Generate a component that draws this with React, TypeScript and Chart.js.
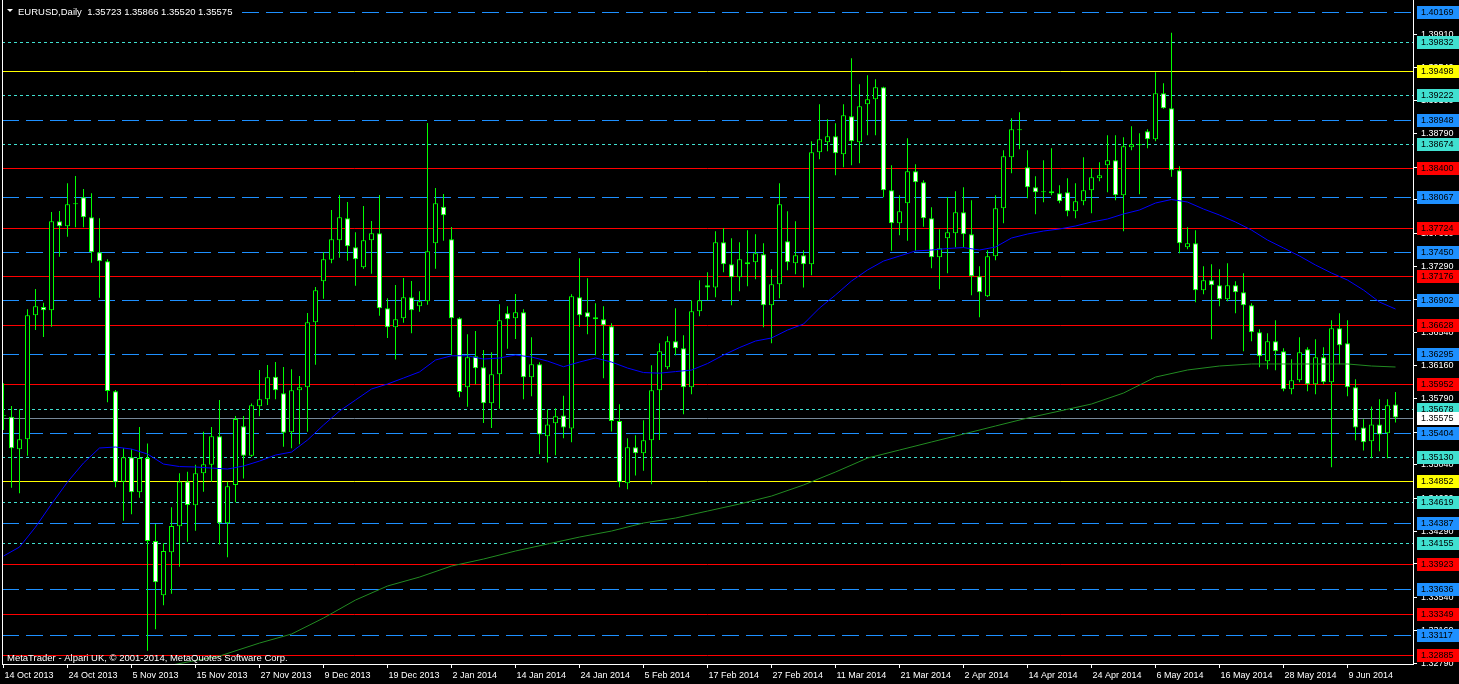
import React, { useEffect, useRef } from "react";
import { Chart, registerables } from "chart.js";

Chart.register(...registerables);

// ---------- data ----------
const symbolTitle = "EURUSD,Daily";
const copyrightText = "MetaTrader - Alpari UK, \u00A9 2001-2014, MetaQuotes Software Corp.";

const dateLabels = [
  "14 Oct 2013", "24 Oct 2013", "5 Nov 2013", "15 Nov 2013", "27 Nov 2013", "9 Dec 2013",
  "19 Dec 2013", "2 Jan 2014", "14 Jan 2014", "24 Jan 2014", "5 Feb 2014", "17 Feb 2014",
  "27 Feb 2014", "11 Mar 2014", "21 Mar 2014", "2 Apr 2014", "14 Apr 2014", "24 Apr 2014",
  "6 May 2014", "16 May 2014", "28 May 2014", "9 Jun 2014",
];
const dateLabelBars = [0, 8, 16, 24, 32, 40, 48, 56, 64, 72, 80, 88, 96, 104, 112, 120, 128, 136, 144, 152, 160, 168];

const opens = [
  1.35600, 1.35585, 1.35216, 1.35329, 1.36733, 1.36827, 1.36789, 1.37797, 1.37740, 1.37989,
  1.38069, 1.37842, 1.37446, 1.37344, 1.35872, 1.34849, 1.35125, 1.34729, 1.35117, 1.34178,
  1.33563, 1.34050, 1.34344, 1.34853, 1.34582, 1.34944, 1.35042, 1.35363, 1.34378, 1.34812,
  1.35476, 1.35143, 1.35703, 1.35782, 1.36038, 1.35850, 1.35408, 1.35884, 1.35918, 1.36654,
  1.37118, 1.37362, 1.37582, 1.37831, 1.37503, 1.37276, 1.37582, 1.37661, 1.36812, 1.36597,
  1.36699, 1.36937, 1.36835, 1.36891, 1.37548, 1.37962, 1.37593, 1.36699, 1.35918, 1.36269,
  1.36144, 1.35737, 1.36065, 1.36755, 1.36699, 1.36767, 1.36031, 1.36178, 1.35363, 1.35510,
  1.35600, 1.35453, 1.36937, 1.36767, 1.36710, 1.36688, 1.36608, 1.35536, 1.34831, 1.35239,
  1.35171, 1.35318, 1.35884, 1.36144, 1.36438, 1.36359, 1.35918, 1.36778, 1.37072, 1.37049,
  1.37559, 1.37310, 1.37163, 1.37310, 1.37333, 1.37423, 1.36846, 1.37084, 1.37570, 1.37321,
  1.37412, 1.37310, 1.38578, 1.38691, 1.38759, 1.38555, 1.38985, 1.38691, 1.39121, 1.39178,
  1.39314, 1.38148, 1.37774, 1.38001, 1.38363, 1.38238, 1.37831, 1.37390, 1.37604, 1.37661,
  1.37899, 1.37650, 1.37174, 1.36948, 1.37401, 1.37944, 1.38521, 1.38827, 1.38408, 1.38182,
  1.38125, 1.38137, 1.38114, 1.38125, 1.37910, 1.38023, 1.38148, 1.38284, 1.38431, 1.38487,
  1.38091, 1.38635, 1.38657, 1.38816, 1.38725, 1.39246, 1.39076, 1.38374, 1.37503, 1.37548,
  1.37016, 1.37129, 1.37072, 1.36914, 1.37072, 1.36993, 1.36846, 1.36540, 1.36212, 1.36438,
  1.36325, 1.35895, 1.35997, 1.36348, 1.35952, 1.36257, 1.35974, 1.36586, 1.36416, 1.35918,
  1.35464, 1.35306, 1.35498, 1.35397, 1.35723,
];
const highs = [
  1.35963, 1.35706, 1.35669, 1.36801, 1.37031, 1.36875, 1.37902, 1.37913, 1.38227, 1.38310,
  1.38163, 1.38114, 1.37831, 1.37367, 1.35887, 1.35227, 1.35216, 1.35468, 1.35283, 1.34370,
  1.34152, 1.34559, 1.34944, 1.34962, 1.35042, 1.35415, 1.35468, 1.35774, 1.34849, 1.35593,
  1.35593, 1.35736, 1.36114, 1.36170, 1.36204, 1.36147, 1.36121, 1.36046, 1.36759, 1.37053,
  1.37446, 1.37925, 1.38095, 1.38015, 1.37672, 1.37970, 1.37800, 1.38095, 1.36925, 1.37076,
  1.37155, 1.37121, 1.37005, 1.38909, 1.38174, 1.38106, 1.37732, 1.36710, 1.36518, 1.36555,
  1.36340, 1.36314, 1.36857, 1.36835, 1.36974, 1.36801, 1.36484, 1.36201, 1.35669, 1.35680,
  1.35823, 1.36970, 1.37378, 1.37151, 1.36869, 1.36835, 1.36642, 1.35725, 1.35340, 1.35374,
  1.35544, 1.36167, 1.36416, 1.36495, 1.36812, 1.36506, 1.36903, 1.37129, 1.37219, 1.37684,
  1.37718, 1.37604, 1.37559, 1.37695, 1.37650, 1.37548, 1.37253, 1.38227, 1.37910, 1.37797,
  1.37468, 1.38702, 1.39121, 1.38952, 1.38906, 1.39121, 1.39642, 1.39348, 1.39450, 1.39404,
  1.39320, 1.38431, 1.38091, 1.38736, 1.38442, 1.38261, 1.37955, 1.37706, 1.38069, 1.38137,
  1.38182, 1.38035, 1.37287, 1.37468, 1.38091, 1.38601, 1.38963, 1.39031, 1.38601, 1.38306,
  1.38487, 1.38623, 1.38204, 1.38284, 1.38227, 1.38521, 1.38397, 1.38465, 1.38770, 1.38770,
  1.38748, 1.38872, 1.38793, 1.38838, 1.39484, 1.39359, 1.39930, 1.38420, 1.37729, 1.37695,
  1.37287, 1.37310, 1.37253, 1.37321, 1.37118, 1.37208, 1.36869, 1.36574, 1.36529, 1.36676,
  1.36359, 1.36235, 1.36484, 1.36370, 1.36461, 1.36370, 1.36676, 1.36755, 1.36676, 1.36008,
  1.35555, 1.35702, 1.35782, 1.35782, 1.35866,
];
const lows = [
  1.35434, 1.34781, 1.34718, 1.35143, 1.36566, 1.36487, 1.36604, 1.37396, 1.37623, 1.37729,
  1.37729, 1.37328, 1.36932, 1.35748, 1.34786, 1.34408, 1.34480, 1.34668, 1.32936, 1.33178,
  1.33450, 1.33581, 1.33887, 1.34170, 1.34295, 1.34736, 1.34849, 1.34140, 1.33993, 1.34616,
  1.34887, 1.35132, 1.35589, 1.35717, 1.35782, 1.35245, 1.35227, 1.35272, 1.35415, 1.36174,
  1.36921, 1.37321, 1.37385, 1.37351, 1.37068, 1.37260, 1.37204, 1.36728, 1.36477, 1.36234,
  1.36649, 1.36529, 1.36774, 1.36853, 1.37260, 1.37577, 1.36280, 1.35805, 1.35698, 1.35952,
  1.35514, 1.35457, 1.35676, 1.36355, 1.36465, 1.35782, 1.35816, 1.35159, 1.35068, 1.35148,
  1.35340, 1.35295, 1.36604, 1.36518, 1.36280, 1.36020, 1.35419, 1.34786, 1.34763, 1.34921,
  1.34973, 1.34820, 1.35321, 1.36121, 1.36280, 1.35613, 1.35839, 1.36721, 1.36903, 1.36937,
  1.37219, 1.36846, 1.37005, 1.37061, 1.37140, 1.36597, 1.36416, 1.36925, 1.37242, 1.37197,
  1.37049, 1.37185, 1.38499, 1.38589, 1.38318, 1.38408, 1.38431, 1.38453, 1.38770, 1.38770,
  1.38069, 1.37464, 1.37638, 1.37577, 1.37464, 1.37736, 1.37265, 1.37027, 1.37208, 1.37503,
  1.37503, 1.36959, 1.36710, 1.36940, 1.37355, 1.37774, 1.38340, 1.38612, 1.38057, 1.37876,
  1.38012, 1.38091, 1.38001, 1.37853, 1.37831, 1.37978, 1.37887, 1.38250, 1.38125, 1.38035,
  1.37684, 1.38601, 1.38102, 1.38623, 1.38702, 1.39070, 1.38302, 1.37435, 1.37480, 1.36880,
  1.36970, 1.36461, 1.36835, 1.36891, 1.36755, 1.36325, 1.36438, 1.36144, 1.36121, 1.36110,
  1.35872, 1.35839, 1.35974, 1.35872, 1.35839, 1.35952, 1.35012, 1.36178, 1.35816, 1.35318,
  1.35204, 1.35114, 1.35193, 1.35114, 1.35520,
];
const closes = [
  1.35590, 1.35227, 1.35329, 1.36733, 1.36835, 1.36789, 1.37797, 1.37740, 1.37989, 1.37995,
  1.37842, 1.37446, 1.37344, 1.35876, 1.34842, 1.35125, 1.34729, 1.35117, 1.34178, 1.33710,
  1.34065, 1.34348, 1.34853, 1.34585, 1.34944, 1.35046, 1.35363, 1.34378, 1.34797, 1.35559,
  1.35143, 1.35714, 1.35782, 1.36031, 1.35884, 1.35404, 1.35884, 1.35918, 1.36654, 1.37016,
  1.37367, 1.37593, 1.37842, 1.37514, 1.37367, 1.37582, 1.37661, 1.36812, 1.36597, 1.36688,
  1.36937, 1.36789, 1.36891, 1.37457, 1.38001, 1.37865, 1.36699, 1.35865, 1.36257, 1.36133,
  1.35737, 1.36065, 1.36676, 1.36688, 1.36767, 1.36031, 1.36178, 1.35385, 1.35498, 1.35589,
  1.35464, 1.36948, 1.36733, 1.36710, 1.36688, 1.36620, 1.35536, 1.34842, 1.35239, 1.35171,
  1.35318, 1.35884, 1.36325, 1.36438, 1.36359, 1.35918, 1.36778, 1.36903, 1.37049, 1.37559,
  1.37310, 1.37163, 1.37367, 1.37333, 1.37435, 1.36846, 1.37084, 1.37989, 1.37333, 1.37412,
  1.37310, 1.38578, 1.38725, 1.38759, 1.38567, 1.38997, 1.38702, 1.39099, 1.39178, 1.39314,
  1.38148, 1.37774, 1.37910, 1.38363, 1.38238, 1.37831, 1.37390, 1.37491, 1.37672, 1.37899,
  1.37650, 1.37174, 1.36993, 1.37401, 1.37944, 1.38533, 1.38838, 1.38838, 1.38182, 1.38125,
  1.38137, 1.38114, 1.38023, 1.37910, 1.38023, 1.38148, 1.38295, 1.38318, 1.38487, 1.38091,
  1.38646, 1.38669, 1.38669, 1.38725, 1.39246, 1.39076, 1.38374, 1.37548, 1.37548, 1.37016,
  1.37129, 1.37072, 1.36914, 1.37072, 1.36993, 1.36846, 1.36540, 1.36269, 1.36438, 1.36325,
  1.35895, 1.35997, 1.36314, 1.35952, 1.36257, 1.35974, 1.36586, 1.36393, 1.35918, 1.35464,
  1.35295, 1.35498, 1.35385, 1.35714, 1.35575,
];

// blue moving average (read at sample bars)
const maFastBars = [
  0, 2, 4, 6, 8, 10, 12, 14, 16, 18, 20, 22, 24, 26, 28, 30, 32, 34, 36, 38, 40, 42, 44, 46, 48,
  50, 52, 54, 56, 58, 60, 62, 64, 66, 68, 70, 72, 74, 76, 78, 80, 82, 84, 86, 88, 90, 92, 94, 96,
  98, 100, 102, 104, 106, 108, 110, 112, 114, 116, 118, 120, 122, 124, 126, 128, 130, 132, 134,
  136, 138, 140, 142, 144, 146, 148, 150, 152, 154, 156, 158, 160, 162, 164, 166, 168, 170, 172, 174,
];
const maFastValues = [
  1.34008, 1.34110, 1.34336, 1.34597, 1.34846, 1.35061, 1.35231, 1.35242, 1.35219, 1.35163,
  1.35049, 1.35021, 1.35016, 1.35004, 1.34993, 1.35027, 1.35083, 1.35151, 1.35185, 1.35321,
  1.35491, 1.35649, 1.35774, 1.35899, 1.35955, 1.36023, 1.36092, 1.36227, 1.36275, 1.36275,
  1.36238, 1.36250, 1.36283, 1.36261, 1.36215, 1.36151, 1.36204, 1.36250, 1.36204, 1.36136,
  1.36085, 1.36078, 1.36096, 1.36113, 1.36187, 1.36283, 1.36368, 1.36442, 1.36476, 1.36566,
  1.36634, 1.36815, 1.36963, 1.37121, 1.37246, 1.37347, 1.37404, 1.37461, 1.37472, 1.37489,
  1.37500, 1.37472, 1.37506, 1.37608, 1.37653, 1.37687, 1.37710, 1.37744, 1.37789, 1.37823,
  1.37880, 1.37925, 1.38004, 1.38044, 1.38015, 1.37936, 1.37868, 1.37789, 1.37698, 1.37585,
  1.37495, 1.37404, 1.37302, 1.37212, 1.37132, 1.37019, 1.36883, 1.36804,
];

// green moving average (read at sample bars)
const maSlowBars = [
  21, 27, 32, 36, 40, 44, 48, 52, 56, 60, 64, 68, 72, 76, 80, 84, 88, 92, 96, 100, 104, 108,
  112, 116, 120, 124, 128, 132, 136, 140, 144, 148, 152, 156, 160, 164, 168, 171, 174,
];
const maSlowValues = [
  1.32774, 1.32876, 1.33023, 1.33125, 1.33306, 1.33510, 1.33669, 1.33770, 1.33895, 1.33974,
  1.34065, 1.34144, 1.34223, 1.34291, 1.34382, 1.34438, 1.34517, 1.34597, 1.34687, 1.34812,
  1.34959, 1.35117, 1.35208, 1.35299, 1.35389, 1.35480, 1.35570, 1.35649, 1.35729, 1.35853,
  1.36034, 1.36114, 1.36159, 1.36182, 1.36182, 1.36182, 1.36182, 1.36159, 1.36148,
];

// horizontal levels
const blueDashLevels = [1.40169, 1.38948, 1.38067, 1.37450, 1.36902, 1.36295, 1.35404, 1.34387, 1.33636, 1.33117];
const cyanDotLevels = [1.39832, 1.39222, 1.38674, 1.35678, 1.35130, 1.34619, 1.34155];
const redLevels = [1.38400, 1.37724, 1.37176, 1.36628, 1.35952, 1.33923, 1.33349, 1.32885];
const yellowLevels = [1.39498, 1.34852];
const bidLevel = 1.35575;

const yTickValues = [
  1.39910, 1.39540, 1.39160, 1.38790, 1.38410, 1.38040, 1.37660, 1.37290, 1.36910, 1.36540,
  1.36160, 1.35790, 1.35410, 1.35040, 1.34660, 1.34290, 1.33920, 1.33540, 1.33160, 1.32790,
];

// ---------- styling ----------
const W = 1459;
const H = 684;
const FONT = '"Liberation Sans", Arial, sans-serif';
const LIME = "#00FF00";
const BLUE_LINE = "#1E90FF";
const CYAN_LINE = "#40E0D0";
const RED_LINE = "#FF0000";
const YELLOW_LINE = "#FFFF00";
const BID_LINE = "#778899";

const mtPlugin = {
  id: "mt4",
  beforeDraw(chart: any) {
    const { ctx } = chart;
    ctx.save();
    ctx.fillStyle = "#000000";
    ctx.fillRect(0, 0, chart.width, chart.height);
    ctx.restore();
  },
  beforeDatasetsDraw(chart: any) {
    const { ctx, chartArea: a } = chart;
    const y = chart.scales.y;
    ctx.save();
    ctx.beginPath();
    ctx.rect(a.left, a.top, a.right - a.left, a.bottom - a.top);
    ctx.clip();
    ctx.lineWidth = 1;
    const line = (v: number, color: string, dash: number[]) => {
      const py = Math.round(y.getPixelForValue(v)) + 0.5;
      ctx.strokeStyle = color;
      ctx.setLineDash(dash);
      ctx.beginPath();
      ctx.moveTo(a.left, py);
      ctx.lineTo(a.right, py);
      ctx.stroke();
    };
    blueDashLevels.forEach((v) => line(v, BLUE_LINE, [17, 7]));
    cyanDotLevels.forEach((v) => line(v, CYAN_LINE, [3, 3]));
    redLevels.forEach((v) => line(v, RED_LINE, []));
    yellowLevels.forEach((v) => line(v, YELLOW_LINE, []));
    line(bidLevel, BID_LINE, []);
    ctx.restore();
  },
  afterDraw(chart: any) {
    const { ctx, chartArea: a } = chart;
    const y = chart.scales.y;
    ctx.save();
    // left frame
    ctx.fillStyle = "#FFFFFF";
    ctx.fillRect(a.left, 0, 1, a.bottom);

    // price labels on the axis
    ctx.font = `9px ${FONT}`;
    ctx.textBaseline = "middle";
    ctx.textAlign = "left";
    const label = (v: number, bg: string) => {
      const py = Math.round(y.getPixelForValue(v));
      ctx.fillStyle = bg;
      ctx.fillRect(a.right + 4, py - 6, W - (a.right + 4), 13);
      ctx.fillStyle = "#000000";
      ctx.fillText(v.toFixed(5), a.right + 8, py + 1);
    };
    blueDashLevels.forEach((v) => label(v, BLUE_LINE));
    cyanDotLevels.forEach((v) => label(v, CYAN_LINE));
    redLevels.forEach((v) => label(v, RED_LINE));
    yellowLevels.forEach((v) => label(v, YELLOW_LINE));
    label(bidLevel, "#FFFFFF");

    // header
    const last = closes.length - 1;
    const header = `${symbolTitle}  ${opens[last].toFixed(5)} ${highs[last].toFixed(5)} ${lows[last].toFixed(5)} ${closes[last].toFixed(5)}`;
    ctx.font = `9.5px ${FONT}`;
    const tw = ctx.measureText(header).width;
    ctx.fillStyle = "#000000";
    ctx.fillRect(a.left + 1, 4, 18 + tw + 2 - a.left, 15);
    ctx.fillStyle = "#FFFFFF";
    ctx.beginPath();
    ctx.moveTo(7, 9);
    ctx.lineTo(13, 9);
    ctx.lineTo(10, 12);
    ctx.closePath();
    ctx.fill();
    ctx.fillText(header, 18, 12);

    // copyright
    ctx.fillText(copyrightText, 7, 658);
    ctx.restore();
  },
};

export default function App() {
  const ref = useRef<HTMLCanvasElement | null>(null);

  useEffect(() => {
    document.body.style.margin = "0";
    document.body.style.background = "#000000";
    const canvas = ref.current;
    if (!canvas) return;

    const bodies = opens.map((o, i) => ({ x: i, y: [o, closes[i]] }));
    const bodyColors = opens.map((o, i) => (closes[i] < o ? "#FFFFFF" : "#000000"));
    const wicks = lows.map((l, i) => ({ x: i, y: [l, highs[i]] }));

    const chart = new Chart(canvas, {
      type: "bar",
      data: {
        datasets: [
          {
            type: "line",
            label: "MA fast",
            data: maFastBars.map((b, i) => ({ x: b, y: maFastValues[i] })),
            borderColor: "#0000FF",
            borderWidth: 1,
            pointRadius: 0,
            tension: 0,
            fill: false,
            clip: 0,
            order: 0,
          } as any,
          {
            type: "line",
            label: "MA slow",
            data: maSlowBars.map((b, i) => ({ x: b, y: maSlowValues[i] })),
            borderColor: "#228B22",
            borderWidth: 1,
            pointRadius: 0,
            tension: 0,
            fill: false,
            clip: 0,
            order: 0,
          } as any,
          {
            type: "bar",
            label: "body",
            data: bodies,
            backgroundColor: bodyColors,
            borderColor: LIME,
            borderWidth: 1,
            borderSkipped: false,
            maxBarThickness: 5,
            grouped: false,
            minBarLength: 1,
            inflateAmount: 0,
            clip: 0,
            order: 1,
          } as any,
          {
            type: "bar",
            label: "wick",
            data: wicks,
            backgroundColor: LIME,
            borderWidth: 0,
            maxBarThickness: 1,
            grouped: false,
            inflateAmount: 0,
            clip: 0,
            order: 2,
          } as any,
        ],
      },
      options: {
        responsive: false,
        animation: false,
        devicePixelRatio: 1,
        events: [],
        layout: { padding: { left: 2, right: 0, top: 0, bottom: 0 } },
        plugins: { legend: { display: false }, tooltip: { enabled: false }, title: { display: false } },
        scales: {
          x: {
            type: "linear",
            min: -0.1875,
            max: 176.1875,
            offset: false,
            grid: { display: true, drawOnChartArea: false, drawTicks: true, tickLength: 4, color: "#FFFFFF", offset: false },
            border: { display: true, color: "#FFFFFF" },
            ticks: {
              autoSkip: false,
              maxRotation: 0,
              minRotation: 0,
              align: "start",
              labelOffset: 1,
              padding: 2,
              color: "#FFFFFF",
              font: { family: FONT, size: 9 },
              callback: (_v: any, idx: number) => dateLabels[idx],
            },
            afterBuildTicks: (scale: any) => {
              scale.ticks = dateLabelBars.map((v) => ({ value: v }));
            },
            afterFit: (scale: any) => {
              scale.height = 20;
              scale.paddingLeft = 0;
              scale.paddingRight = 0;
              scale.paddingTop = 0;
              scale.paddingBottom = 0;
            },
          } as any,
          y: {
            type: "linear",
            position: "right",
            min: 1.32786,
            max: 1.40302,
            beginAtZero: false,
            grid: { display: true, drawOnChartArea: false, drawTicks: true, tickLength: 4, color: "#FFFFFF" },
            border: { display: true, color: "#FFFFFF" },
            ticks: {
              padding: 4,
              color: "#FFFFFF",
              font: { family: FONT, size: 9 },
              callback: (v: any) => Number(v).toFixed(5),
            },
            afterBuildTicks: (scale: any) => {
              scale.ticks = yTickValues.map((v) => ({ value: v }));
            },
            afterFit: (scale: any) => {
              scale.width = 46;
              scale.paddingLeft = 0;
              scale.paddingRight = 0;
              scale.paddingTop = 0;
              scale.paddingBottom = 0;
            },
          } as any,
        },
      },
      plugins: [mtPlugin],
    } as any);

    return () => chart.destroy();
  }, []);

  return (
    <div style={{ position: "fixed", left: 0, top: 0, width: W, height: H, background: "#000000" }}>
      <canvas ref={ref} width={W} height={H} style={{ display: "block", width: W, height: H }} />
    </div>
  );
}
